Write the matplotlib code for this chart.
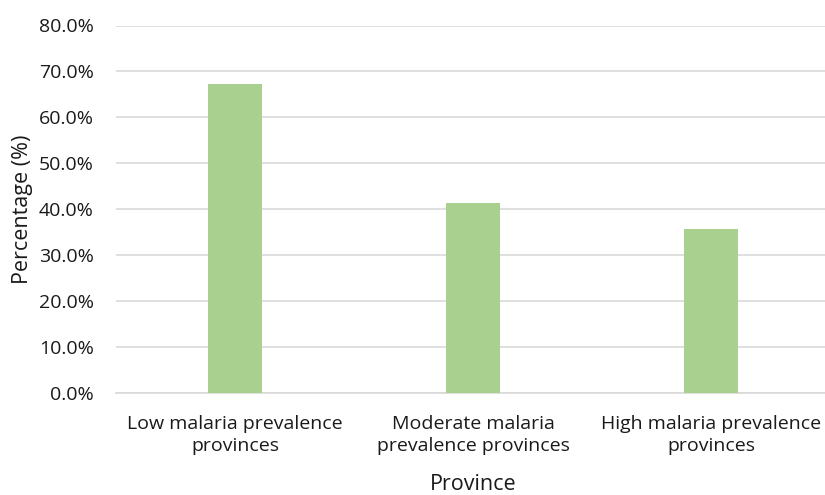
import matplotlib
matplotlib.use("Agg")
import matplotlib.pyplot as plt
from matplotlib.ticker import FuncFormatter, MultipleLocator

# 数据
categories = [
    "Low malaria prevalence\nprovinces",
    "Moderate malaria\nprevalence provinces",
    "High malaria prevalence\nprovinces",
]
percentages = [67.2, 41.4, 35.7]

plt.rcParams["font.family"] = ["Open Sans", "DejaVu Sans"]
TEXT = "#1a1a1a"

fig = plt.figure(figsize=(8.25, 4.95), dpi=100)
# axes 位置按像素换算（右侧稍超出画布，和原图一致）
ax = fig.add_axes([116 / 825, 1 - 392.5 / 495, 714 / 825, 367 / 495])

x = range(len(categories))
ax.bar(x, percentages, width=0.225, color="#a9d08e", zorder=3)

ax.set_xlim(-0.5, 2.5)
ax.set_ylim(0, 80)
ax.yaxis.set_major_locator(MultipleLocator(10))
ax.yaxis.set_major_formatter(FuncFormatter(lambda v, _: f"{v:.1f}%"))
ax.grid(axis="y", color="#d9d9d9", linewidth=1.2, zorder=0)

for side in ["top", "right", "left"]:
    ax.spines[side].set_visible(False)
ax.spines["bottom"].set_color("#d9d9d9")
ax.spines["bottom"].set_linewidth(1.2)

ax.set_xticks(list(x))
ax.set_xticklabels(categories, fontsize=14, color=TEXT, linespacing=1.28)
ax.tick_params(axis="both", length=0, colors=TEXT, labelsize=14)
ax.tick_params(axis="x", pad=16)
ax.tick_params(axis="y", pad=16)

ax.set_xlabel("Province", fontsize=15.5, color=TEXT, labelpad=14)
ax.set_ylabel("Percentage (%)", fontsize=15.5, color=TEXT, labelpad=4)

fig.savefig("out.png", dpi=100)
